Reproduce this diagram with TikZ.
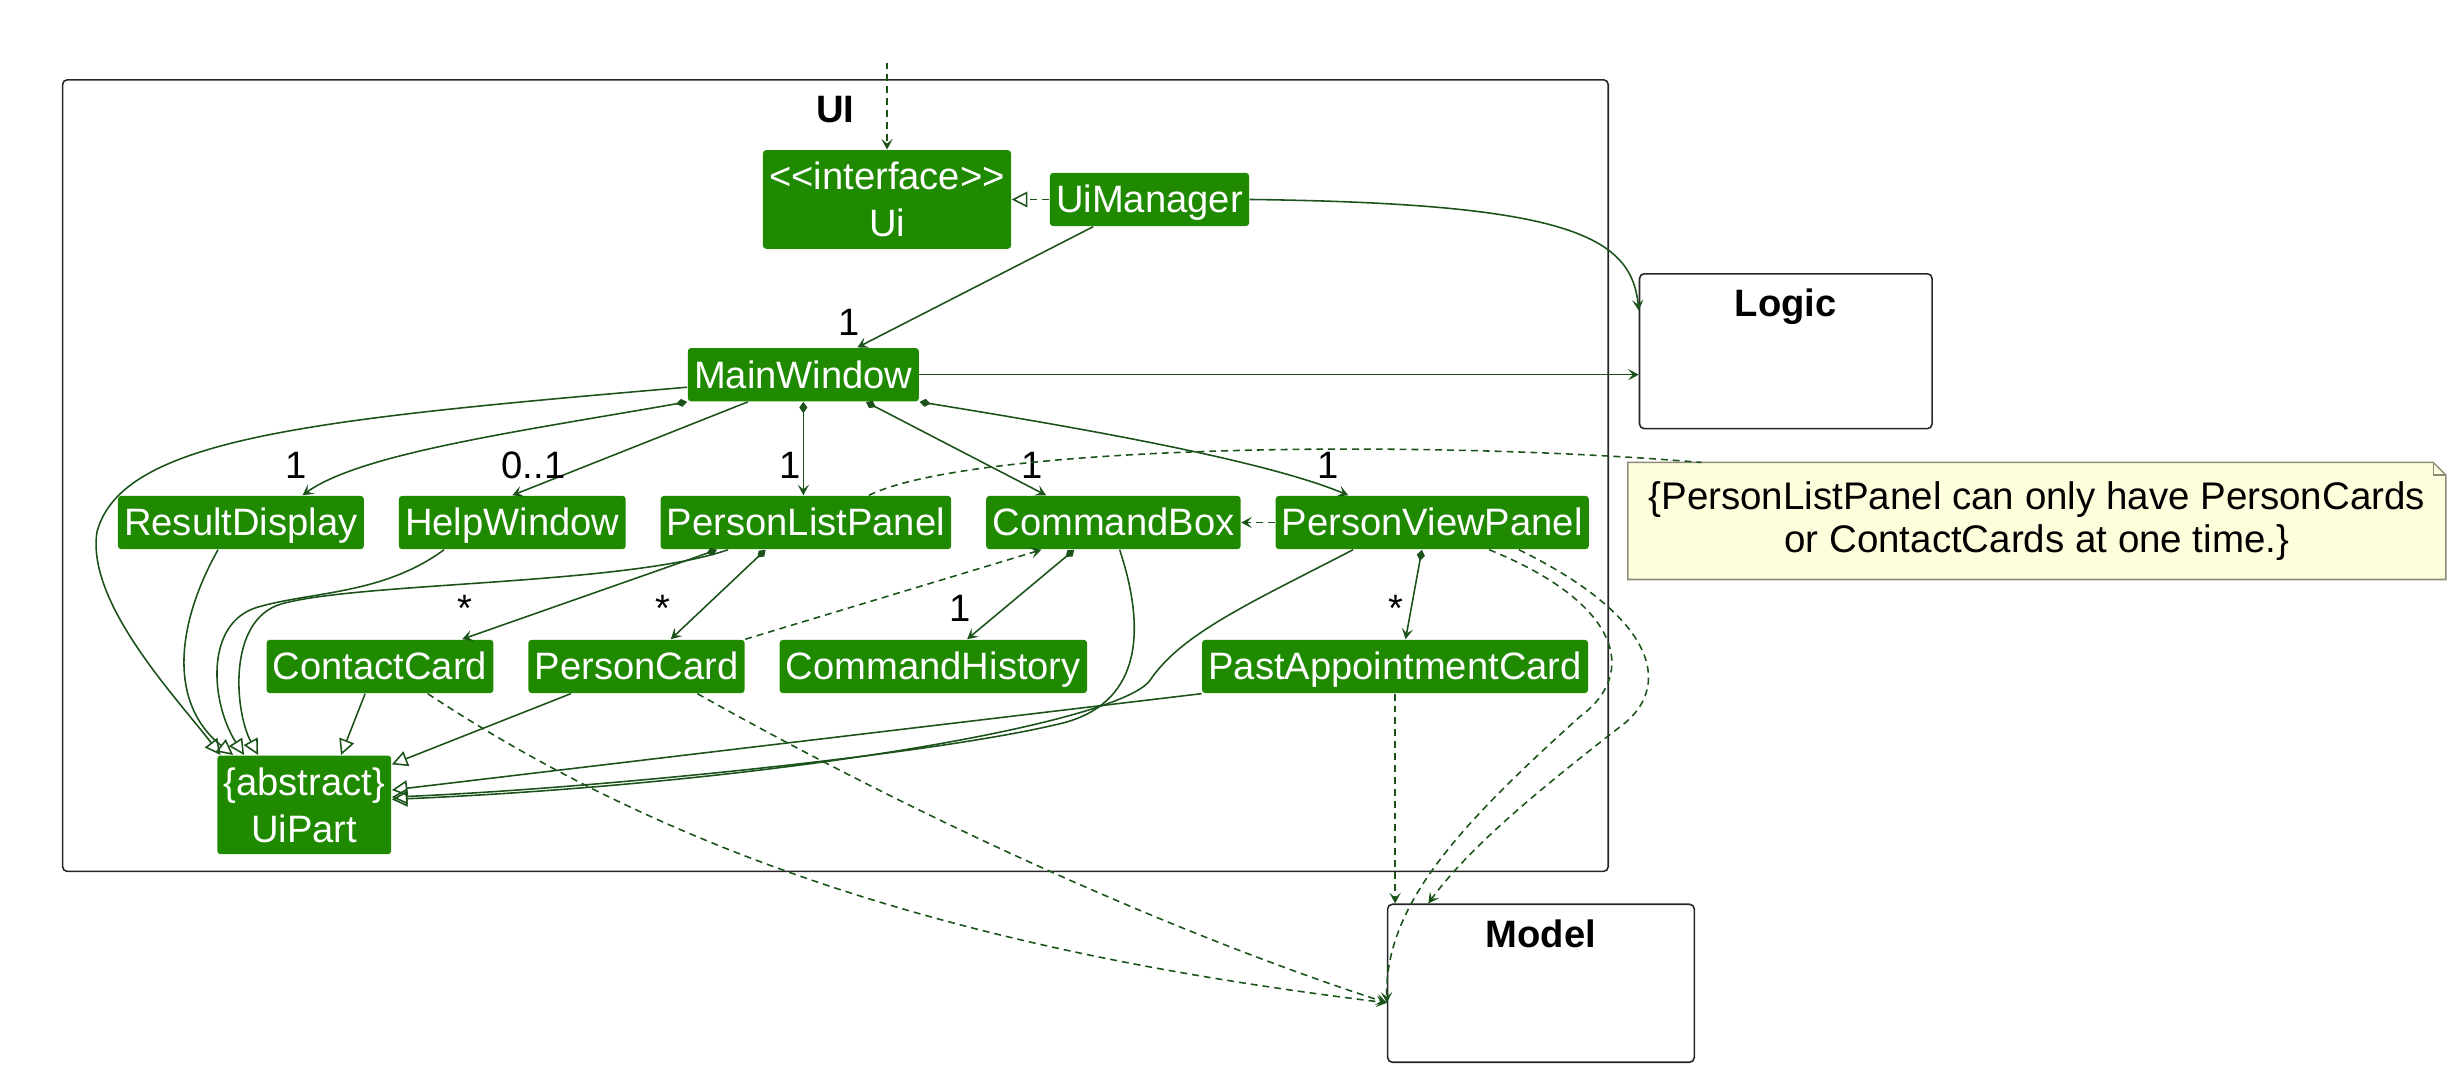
\documentclass[tikz,border=0pt]{standalone}
\usepackage{fontspec}
\setmainfont{Liberation Sans}
\usepackage{tikz}
\usetikzlibrary{arrows.meta, positioning, calc}

\definecolor{uigreen}{RGB}{31,137,0}
\definecolor{uiline}{RGB}{26,82,26}
\definecolor{notefill}{RGB}{254,254,221}
\definecolor{noteline}{RGB}{140,140,120}
\newcommand{\umlfont}{\fontsize{12.2}{15}\selectfont}

\begin{document}
\begin{tikzpicture}[
  x=0.5pt, y=-0.5pt,
  node distance=10.8pt,
  clsbase/.style={fill=uigreen, text=white, font=\umlfont, rounded corners=1pt,
    inner xsep=2pt, inner ysep=0pt},
  cls/.style={clsbase, text height=12.8pt, text depth=4.2pt},
  cls2/.style={clsbase, align=center, minimum height=31.5pt},
  pkg/.style={draw=black!85, line width=0.5pt, rounded corners=1.5pt,
    inner sep=0pt},
  title/.style={font=\umlfont\bfseries, anchor=base},
  mult/.style={font=\umlfont, inner sep=0pt, anchor=base},
  notebox/.style={fill=notefill, minimum width=261pt, minimum height=37pt,
    align=center, inner sep=0pt, font=\fontsize{12.3}{13.8}\selectfont},
  assoc/.style={draw=uiline, line width=0.5pt,
    -{Stealth[length=3.4pt, width=3.6pt, inset=1.5pt]}},
  comp/.style={draw=uiline, line width=0.5pt,
    {Diamond[length=3.6pt, width=2.6pt]}-{Stealth[length=3.4pt, width=3.6pt, inset=1.5pt]}},
  gen/.style={draw=uiline, line width=0.5pt,
    -{Triangle[open, length=5pt, width=5pt]}},
  dep/.style={assoc, dash pattern=on 2.2pt off 1.6pt},
  real/.style={gen, dash pattern=on 2.2pt off 1.6pt},
  notelink/.style={draw=uiline, line width=0.5pt, dash pattern=on 2.2pt off 1.6pt},
]
  \useasboundingbox (0,0) rectangle (1568,681);

  % -- Packages --
  \node[pkg, minimum width=494pt, minimum height=253pt] (UIpkg) at (534,304) {};
  \node[title] (uiTitle) at ([yshift=-14pt]UIpkg.north) {UI};
  \node[pkg, minimum width=93.5pt, minimum height=49.5pt] (Logic) at (1141.5,224.5) {};
  \node[title] (logicTitle) at ([yshift=-14pt]Logic.north) {Logic};
  \node[pkg, minimum width=98pt, minimum height=50.5pt] (Model) at (985,628.5) {};
  \node[title] (modelTitle) at ([yshift=-14pt]Model.north) {Model};

  % -- Classes --
  \node[cls2] (Ui) at (567,127.5) {<\kern0pt<interface>\kern0pt>\\Ui};
  \node[cls, right=12pt of Ui] (UiManager) {UiManager};
  \node[cls] (MainWindow) at (513.5,239.5) {MainWindow};

  \node[cls, anchor=west] (ResultDisplay) at (75,334) {ResultDisplay};
  \node[cls, right=of ResultDisplay] (HelpWindow) {HelpWindow};
  \node[cls, right=of HelpWindow] (PersonListPanel) {PersonListPanel};
  \node[cls, right=of PersonListPanel] (CommandBox) {CommandBox};
  \node[cls, right=of CommandBox] (PersonViewPanel) {PersonViewPanel};

  \node[cls, anchor=west] (ContactCard) at (170,426) {ContactCard};
  \node[cls, right=of ContactCard] (PersonCard) {PersonCard};
  \node[cls, right=of PersonCard] (CommandHistory) {CommandHistory};
  \node[cls, anchor=west] (PastAppointmentCard) at (768,426) {PastAppointmentCard};

  \node[cls2] (UiPart) at (194.5,514.5) {\{abstract\}\\UiPart};

  % -- Note --
  \node[notebox] (Note) at (1302,333)
    {\{PersonListPanel can only have PersonCards\\or ContactCards at one time.\}};
  \fill[white] ([xshift=-4pt]Note.north east) -- (Note.north east)
    -- ([yshift=-4pt]Note.north east) -- cycle;
  \draw[noteline, line width=0.5pt] (Note.north west) -- ([xshift=-4pt]Note.north east)
    -- ([yshift=-4pt]Note.north east) -- (Note.south east) -- (Note.south west) -- cycle;
  \draw[noteline, line width=0.5pt] ([xshift=-4pt]Note.north east)
    |- ([yshift=-4pt]Note.north east);

  % -- Ui and UiManager --
  \coordinate (uiIn) at (567,40);
  \draw[dep] (uiIn) -- (Ui.north);
  \draw[real] (UiManager.west) -- (Ui.east);
  \draw[assoc] ([xshift=-18pt]UiManager.south) -- ([xshift=17.25pt]MainWindow.north);
  \node[mult] (mMain) at (543,214.6) {1};
  \draw[assoc] (UiManager.east) .. controls (1000,130) and (1043,150)
    .. ([yshift=-12pt]Logic.north west);
  \draw[assoc] (MainWindow.east) -- (MainWindow.east -| Logic.west);

  % -- MainWindow parts --
  \draw[comp] (MainWindow.south west) .. controls (330,276) and (230,290)
    .. ([xshift=19.7pt]ResultDisplay.north);
  \draw[assoc] ([xshift=-17.75pt]MainWindow.south) -- (HelpWindow.north);
  \draw[comp] (MainWindow.south) -- (MainWindow.south |- PersonListPanel.north);
  \draw[comp] ([xshift=20pt]MainWindow.south) -- ([xshift=-21.5pt]CommandBox.north);
  \draw[comp] (MainWindow.south east) .. controls (700,275) and (810,295)
    .. ([xshift=-26.8pt]PersonViewPanel.north);
  \node[mult] (mResult) at (189,305.6) {1};
  \node[mult] (mHelp) at (341,305.6) {0..1};
  \node[mult] (mList) at (505,305.6) {1};
  \node[mult] (mCmd) at (660,305.6) {1};
  \node[mult] (mView) at (849,305.6) {1};

  % -- Panel parts --
  \draw[comp] ([xshift=-28.4pt]PersonListPanel.south) -- ([xshift=26.25pt]ContactCard.north);
  \draw[comp] ([xshift=-12.9pt]PersonListPanel.south) -- ([xshift=10.95pt]PersonCard.north);
  \draw[comp] ([xshift=-12.5pt]CommandBox.south) -- ([xshift=10.8pt]CommandHistory.north);
  \draw[comp] ([xshift=-3.3pt]PersonViewPanel.south) -- ([xshift=3.35pt]PastAppointmentCard.north);
  \node[mult] (mContact) at (297,397.5) {*};
  \node[mult] (mPerson) at (424,397.5) {*};
  \node[mult] (mHistory) at (614,397.5) {1};
  \node[mult] (mPast) at (892,397.5) {*};

  \draw[dep] (PersonViewPanel.west) -- (CommandBox.east);
  \draw[dep] (PersonCard.north east) -- ([xshift=-23pt]CommandBox.south);
  \draw[notelink] ([xshift=20.1pt]PersonListPanel.north) .. controls (620,285) and (900,280)
    .. ([xshift=23.5pt]Note.north west);

  % -- Inheritance from UiPart --
  \draw[gen] ([yshift=-4pt]MainWindow.west) .. controls (200,268) and (78,280)
    .. (62,340) .. controls (55,385) and (112,445) .. ([xshift=-26.75pt]UiPart.north);
  \draw[gen] ([xshift=-7.3pt]ResultDisplay.south) .. controls (112,400) and (108,450)
    .. ([xshift=-22.75pt]UiPart.north);
  \draw[gen] ([xshift=-21.8pt]HelpWindow.south) .. controls (245,380) and (200,378)
    .. (165,388) .. controls (130,398) and (135,450) .. ([xshift=-19.25pt]UiPart.north);
  \draw[gen] ([xshift=-24.9pt]PersonListPanel.south) .. controls (400,374) and (230,372)
    .. (180,386) .. controls (145,396) and (150,455) .. ([xshift=-14.75pt]UiPart.north);
  \draw[gen] ([xshift=-4.75pt]ContactCard.south) -- ([xshift=11.75pt]UiPart.north);
  \draw[gen] ([xshift=-21pt]PersonCard.south) -- ([yshift=-3pt]UiPart.north east);
  \draw[gen] ([xshift=2pt]CommandBox.south) .. controls (735,410) and (725,450)
    .. (680,462) .. controls (600,482) and (380,504) .. ([yshift=2.5pt]UiPart.east);
  \draw[gen] ([xshift=-25.3pt]PersonViewPanel.south) .. controls (800,385) and (755,405)
    .. (735,435) .. controls (715,462) and (500,500) .. ([yshift=1.75pt]UiPart.east);
  \draw[gen] (PastAppointmentCard.south west) -- ([yshift=4.75pt]UiPart.east);

  % -- Uses of Model --
  \draw[dep] ([xshift=15.25pt]ContactCard.south) .. controls (450,560) and (650,612)
    .. ([yshift=-6.25pt]Model.west);
  \draw[dep] ([xshift=19.45pt]PersonCard.south) .. controls (600,530) and (760,600)
    .. ([yshift=-6.25pt]Model.west);
  \draw[dep] (PastAppointmentCard.south) -- (PastAppointmentCard.south |- Model.north);
  \draw[dep] ([xshift=18.2pt]PersonViewPanel.south) .. controls (1035,385) and (1048,430)
    .. (1010,458) .. controls (930,530) and (885,580) .. ([yshift=-6.25pt]Model.west);
  \draw[dep] ([xshift=27.7pt]PersonViewPanel.south) .. controls (1060,395) and (1070,440)
    .. (1035,465) .. controls (990,500) and (940,540) .. ([xshift=-36pt]Model.north);
\end{tikzpicture}
\end{document}
